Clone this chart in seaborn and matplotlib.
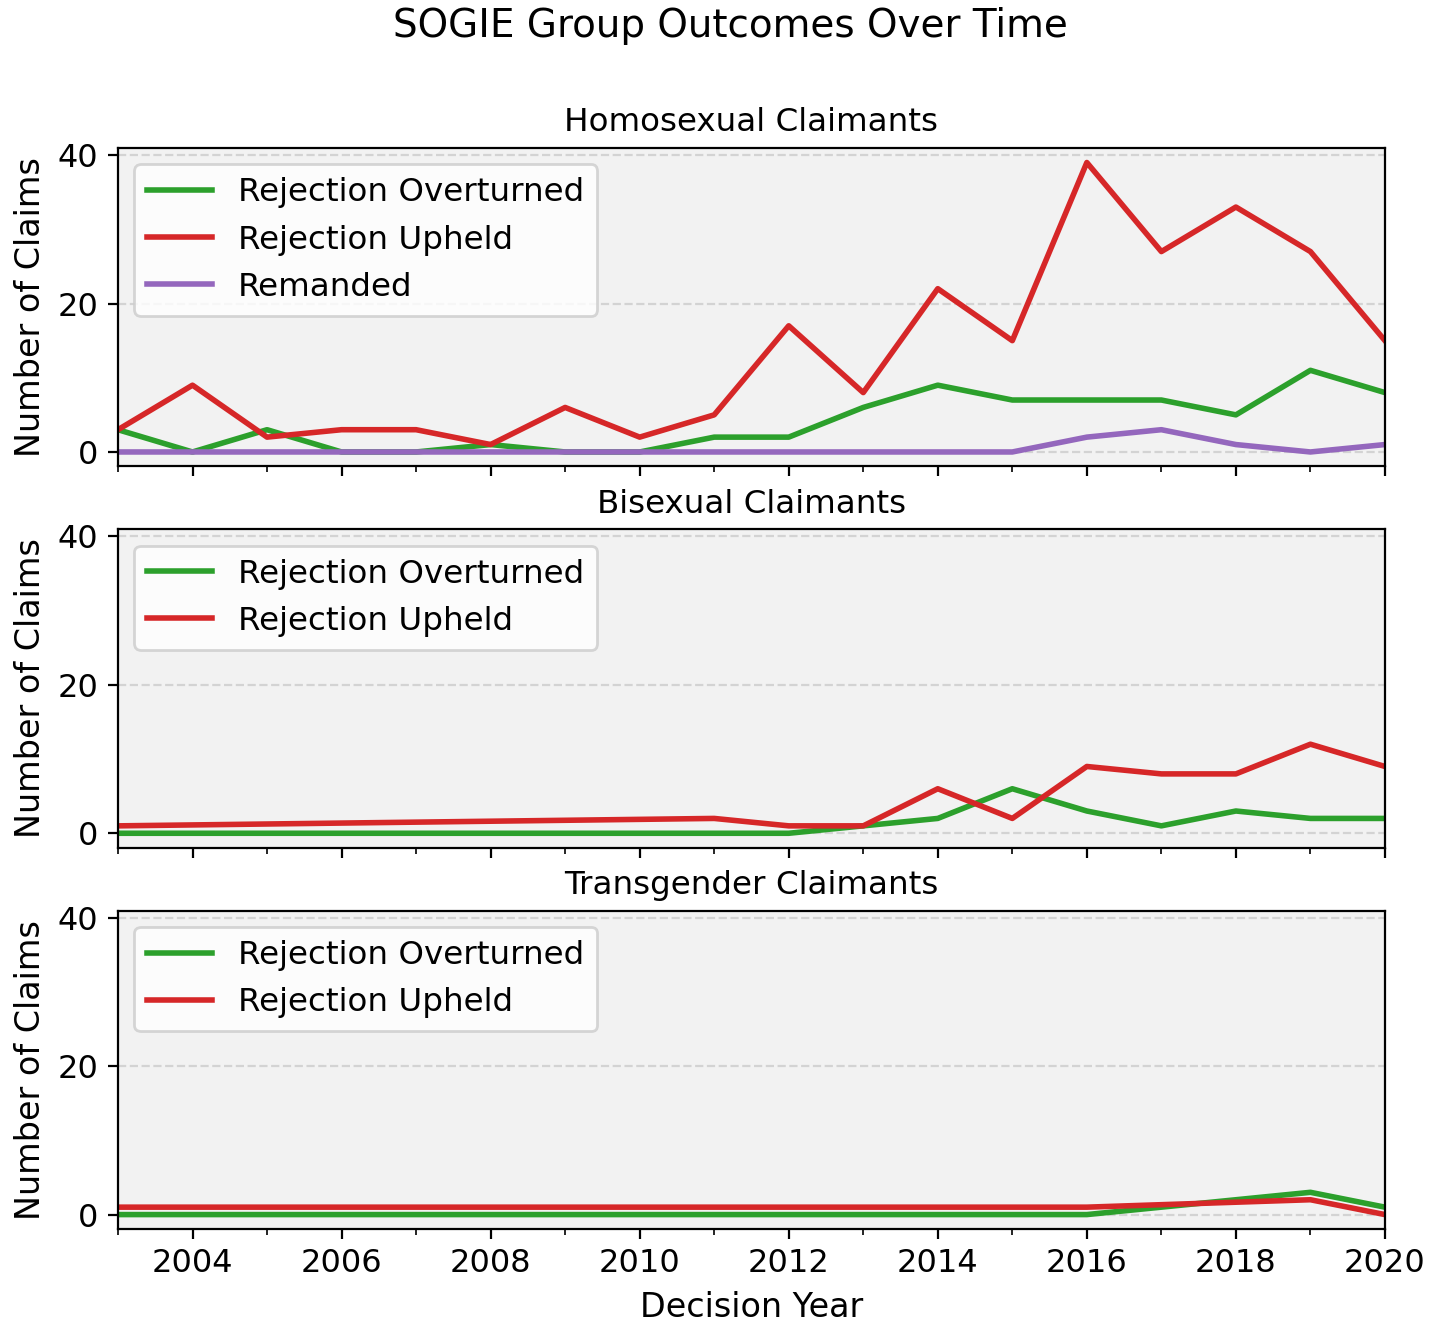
import pandas as pd
import seaborn as sns
import matplotlib.pyplot as plt
from matplotlib.ticker import MultipleLocator

# homosexual claimants, every year
homo_years = list(range(2003, 2021))
homo_overturned = [3, 0, 3, 0, 0, 1, 0, 0, 2, 2, 6, 9, 7, 7, 7, 5, 11, 8]
homo_upheld = [3, 9, 2, 3, 3, 1, 6, 2, 5, 17, 8, 22, 15, 39, 27, 33, 27, 15]
homo_remanded = [0, 0, 0, 0, 0, 0, 0, 0, 0, 0, 0, 0, 0, 2, 3, 1, 0, 1]

# bisexual claimants, only years with decisions
bi_years = [2003, 2011, 2012, 2013, 2014, 2015, 2016, 2017, 2018, 2019, 2020]
bi_overturned = [0, 0, 0, 1, 2, 6, 3, 1, 3, 2, 2]
bi_upheld = [1, 2, 1, 1, 6, 2, 9, 8, 8, 12, 9]

# transgender claimants
trans_years = [2003, 2016, 2017, 2018, 2019, 2020]
trans_overturned = [0, 0, 1, 2, 3, 1]
trans_upheld = [1, 1, None, None, 2, 0]

outcome_colors = {
    "Rejection Overturned": "tab:green",
    "Rejection Upheld": "tab:red",
    "Remanded": "tab:purple",
}


def to_long(years, series):
    rows = []
    for name, vals in series.items():
        for y, v in zip(years, vals):
            if v is not None:
                rows.append({"year": y, "outcome": name, "claims": v})
    return pd.DataFrame(rows)


panels = [
    ("Homosexual Claimants", to_long(homo_years, {
        "Rejection Overturned": homo_overturned,
        "Rejection Upheld": homo_upheld,
        "Remanded": homo_remanded})),
    ("Bisexual Claimants", to_long(bi_years, {
        "Rejection Overturned": bi_overturned,
        "Rejection Upheld": bi_upheld})),
    ("Transgender Claimants", to_long(trans_years, {
        "Rejection Overturned": trans_overturned,
        "Rejection Upheld": trans_upheld})),
]

fig, axes = plt.subplots(3, 1, figsize=(7.15, 6.65), dpi=200, sharex=True, sharey=True)

for ax, (title, df) in zip(axes, panels):
    sns.lineplot(data=df, x="year", y="claims", hue="outcome", palette=outcome_colors,
                 ax=ax, linewidth=2)
    ax.set_facecolor("#f2f2f2")
    ax.grid(axis="y", linestyle="--", color="#cccccc", alpha=0.8)
    ax.set_axisbelow(True)
    ax.set_title(title, fontsize=11.7)
    ax.set_ylabel("Number of Claims", fontsize=12)
    ax.set_xlabel("")
    ax.legend(loc="upper left", fontsize=11.7)
    ax.xaxis.set_major_locator(MultipleLocator(2))
    ax.xaxis.set_minor_locator(MultipleLocator(1))
    ax.yaxis.set_major_locator(MultipleLocator(20))
    ax.tick_params(labelsize=11.5)

axes[0].set_xlim(2003, 2020)
axes[-1].set_xlabel("Decision Year", fontsize=12)
fig.suptitle("SOGIE Group Outcomes Over Time", fontsize=14, x=0.511, y=0.995)
fig.subplots_adjust(left=0.0825, right=0.9685, top=0.8887, bottom=0.0759, hspace=0.1975)
fig.savefig("out.png")
